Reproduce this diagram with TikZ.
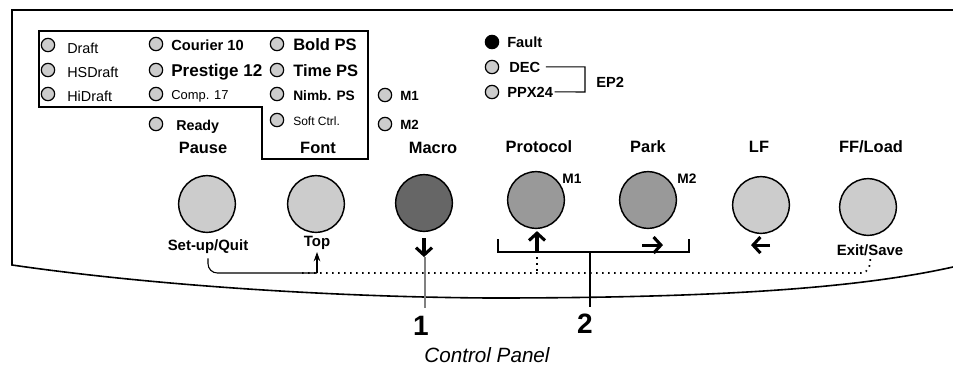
\documentclass[tikz,border=0pt]{standalone}
\usepackage{fontspec}
\setmainfont{Liberation Sans}
\usetikzlibrary{arrows.meta, positioning}
\definecolor{ledgray}{gray}{0.8}
\definecolor{keylight}{gray}{0.8}
\definecolor{keymid}{gray}{0.6}
\definecolor{keydark}{gray}{0.4}
\newcommand{\fsz}[1]{\fontsize{#1}{#1}\selectfont}
\tikzset{
  led/.style={circle, draw, line width=0.9pt, fill=ledgray, minimum size=10pt, inner sep=0pt},
  key/.style={circle, draw, line width=1.1pt, minimum size=42.5pt, inner sep=0pt},
  tag/.style={anchor=base west, inner sep=0pt},
  head/.style={anchor=base, inner sep=0pt, font=\fsz{12.3}\bfseries},
  sub/.style={anchor=base, inner sep=0pt, font=\fsz{11.2}\bfseries},
  keyarrow/.style={line width=2.3pt, -{Straight Barb[length=5.5pt,width=12pt]}},
  dots/.style={line width=1.3pt, dash pattern=on 1.2pt off 3.3pt},
  linkline/.style={line width=0.8pt}
}
\begin{document}
\begin{tikzpicture}[x=0.75pt, y=-0.75pt]
  \useasboundingbox (0,0) rectangle (953,379);
  % Panel outline
  \draw[line width=1.2pt] (953,10) -- (12,10) -- (12,265)
    .. controls (150,285) and (330,297) .. (490,298)
    .. controls (700,298) and (850,290) .. (953,267);
  % Mode frame
  \draw[line width=1.1pt] (39,31) -- (368,31) -- (368,159) -- (262,159) -- (262,107) -- (39,107) -- cycle;
  % Print quality LEDs
  \node[led] (draft) at (48,45) {};
  \node[led] (hsdraft) at (48,70) {};
  \node[led] (hidraft) at (48,94) {};
  \node[tag, font=\fsz{10.8}] (draftlbl) at (67,53) {Draft};
  \node[tag, font=\fsz{10.8}] (hsdraftlbl) at (67,77) {HSDraft};
  \node[tag, font=\fsz{10.8}] (hidraftlbl) at (67,101) {HiDraft};
  % Pitch LEDs
  \node[led] (courier) at (156,44) {};
  \node[led] (prestige) at (156,70) {};
  \node[led] (comp) at (156,94) {};
  \node[led] (ready) at (156,124) {};
  \node[tag, font=\fsz{11}\bfseries] (courierlbl) at (171,50) {Courier 10};
  \node[tag, font=\fsz{12.8}\bfseries] (prestigelbl) at (171,76) {Prestige 12};
  \node[tag, font=\fsz{9.7}] (complbl) at (171,99) {Comp. 17};
  \node[tag, font=\fsz{10.7}\bfseries] (readylbl) at (176,130) {Ready};
  % Font LEDs
  \node[led] (boldps) at (277,44) {};
  \node[led] (timeps) at (277,70) {};
  \node[led] (nimbps) at (277,94) {};
  \node[led] (softctrl) at (277,120) {};
  \node[tag, font=\fsz{12.4}\bfseries] (boldpslbl) at (293,50) {Bold PS};
  \node[tag, font=\fsz{12.4}\bfseries] (timepslbl) at (293,76) {Time PS};
  \node[tag, font=\fsz{10.3}\bfseries] (nimbpslbl) at (293,100) {Nimb. PS};
  \node[tag, font=\fsz{9}] (softctrllbl) at (293,125) {Soft Ctrl.};
  % Macro LEDs
  \node[led] (mone) at (385,95) {};
  \node[led] (mtwo) at (385,124) {};
  \node[tag, font=\fsz{10}\bfseries] (monelbl) at (400,100) {M1};
  \node[tag, font=\fsz{10}\bfseries] (mtwolbl) at (400,129) {M2};
  % Protocol LEDs
  \node[led, fill=black] (fault) at (492,42) {};
  \node[led] (dec) at (492,67) {};
  \node[led] (ppx) at (492,92) {};
  \node[tag, font=\fsz{11}\bfseries] (faultlbl) at (507,47) {Fault};
  \node[tag, font=\fsz{11}\bfseries] (declbl) at (509,72) {DEC};
  \node[tag, font=\fsz{11}\bfseries] (ppxlbl) at (507,97) {PPX24};
  \node[tag, font=\fsz{11}\bfseries] (eptwo) at (596,87) {EP2};
  \coordinate (epcorner) at (585,92);
  \draw[linkline] ([xshift=4pt]declbl.east) -| (epcorner) -- ([xshift=1pt]ppxlbl.east);
  % Key names
  \node[head] (pauselbl) at (203,153) {Pause};
  \node[head] (fontlbl) at (318,153) {Font};
  \node[head] (macrolbl) at (433,153) {Macro};
  \node[head] (protocollbl) at (539,152) {Protocol};
  \node[head] (parklbl) at (648,152) {Park};
  \node[head] (lflbl) at (759,152) {LF};
  \node[head] (fflbl) at (871,152) {FF/Load};
  % Keys
  \node[key, fill=keylight] (pause) at (207,204) {};
  \node[key, fill=keylight] (font) at (316,204) {};
  \node[key, fill=keydark] (macro) at (424,203) {};
  \node[key, fill=keymid] (protocol) at (536,200) {};
  \node[key, fill=keymid] (park) at (648,200) {};
  \node[key, fill=keylight] (lf) at (761,205) {};
  \node[key, fill=keylight] (ff) at (868,207) {};
  \node[anchor=base, inner sep=0pt, font=\fsz{10.3}\bfseries] (protocolm) at (572,183) {M1};
  \node[anchor=base, inner sep=0pt, font=\fsz{10.3}\bfseries] (parkm) at (687,183) {M2};
  % Second functions
  \node[sub] (setuplbl) at (208,250) {Set-up/Quit};
  \node[sub] (toplbl) at (317,246) {Top};
  \node[sub] (exitlbl) at (870,255) {Exit/Save};
  % Direction arrows
  \draw[keyarrow] (macro.south) ++(0,6) -- ++(0,19);
  \draw[keyarrow] (protocol.south) ++(1,22) -- ++(0,-20);
  \draw[keyarrow] (park.south) ++(-6,16) -- ++(21,0);
  \draw[keyarrow] (lf.south) ++(9,11) -- ++(-19,0);
  % Set-up links
  \coordinate (topfoot) at (317,273);
  \coordinate (dotstart) at (302,273);
  \draw[linkline, rounded corners=7pt] (setuplbl.south) ++(0,5) |- (topfoot);
  \draw[linkline, -{Stealth[length=7pt,width=5pt]}] (topfoot) -- ([yshift=-2pt]toplbl.south);
  \draw[dots] (dotstart) -- (862,273) .. controls (868,272) and (871,266) .. ([yshift=-1pt]exitlbl.south);
  \draw[dots] (425,257) -- (425,273);
  \draw[dots] (537,257) -- (537,273);
  % Callouts
  \node[anchor=base, inner sep=0pt, font=\fsz{21}\bfseries] (one) at (421,335) {1};
  \node[anchor=base, inner sep=0pt, font=\fsz{21}\bfseries] (two) at (585,333) {2};
  \coordinate (onetop) at (425,308);
  \coordinate (twotop) at (590,307);
  \draw[line width=0.8pt, gray] (425,257) -- (onetop);
  \draw[linkline] (498,239) -- (498,252) -- (689,252) -- (689,239);
  \draw[linkline] (590,252) -- (twotop);
  % Caption
  \node[anchor=base, inner sep=0pt, font=\fsz{15.5}\itshape] (caption) at (487,362) {Control Panel};
\end{tikzpicture}
\end{document}
